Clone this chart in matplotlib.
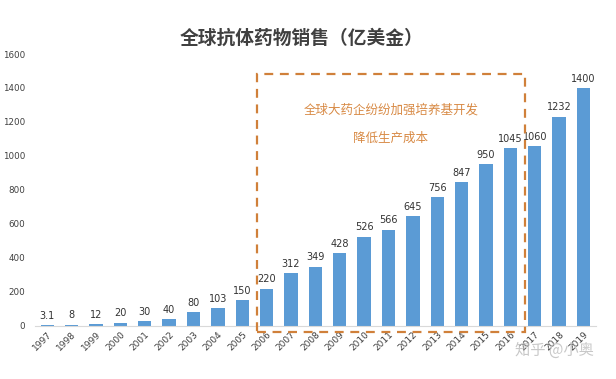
import matplotlib.pyplot as plt
import numpy as np
from matplotlib.patches import Rectangle

plt.rcParams['font.family'] = ['Noto Sans CJK SC', 'DejaVu Sans']

# 年份和销售额 (亿美金)
years = ['1997', '1998', '1999', '2000', '2001', '2002', '2003', '2004', '2005', '2006',
         '2007', '2008', '2009', '2010', '2011', '2012', '2013', '2014', '2015', '2016',
         '2017', '2018', '2019']
sales = [3.1, 8, 12, 20, 30, 40, 80, 103, 150, 220, 312, 349, 428, 526, 566, 645,
         756, 847, 950, 1045, 1060, 1232, 1400]
value_labels = ['3.1', '8', '12', '20', '30', '40', '80', '103', '150', '220', '312', '349',
                '428', '526', '566', '645', '756', '847', '950', '1045', '1060', '1232', '1400']
yticks = [0, 200, 400, 600, 800, 1000, 1200, 1400, 1600]

fig = plt.figure(figsize=(6.16, 3.79), dpi=100)
ax = fig.add_axes([0.057, 0.14, 0.91, 0.7175])

x = np.arange(len(years))
bars = ax.bar(x, sales, width=0.55, color='#5B9BD5', zorder=2)

for i, b in enumerate(bars):
    ax.text(b.get_x() + b.get_width() / 2, b.get_height() + 25, value_labels[i],
            ha='center', va='bottom', fontsize=7, color='#333333', family='DejaVu Sans')

ax.set_xlim(-0.5, len(years) - 0.5)
ax.set_ylim(0, 1600)
ax.set_yticks(yticks)
ax.set_yticklabels([str(t) for t in yticks], fontsize=6.3, color='#404040', family='DejaVu Sans')
ax.set_xticks(x)
ax.set_xticklabels(years, rotation=45, ha='right', rotation_mode='anchor', fontsize=6.5,
                   color='#404040', family='DejaVu Sans')
ax.tick_params(axis='both', length=0)
ax.tick_params(axis='y', pad=7)
ax.tick_params(axis='x', pad=3)

for s in ['top', 'right', 'left']:
    ax.spines[s].set_visible(False)
ax.spines['bottom'].set_color('#D9D9D9')

# 虚线框
box = Rectangle((8.6, -35), 11.0, 1517, fill=False, edgecolor='#D0803A', linestyle=(0, (4, 3)),
                linewidth=1.6, clip_on=False, zorder=3)
ax.add_patch(box)
ax.text(14.1, 1270, '全球大药企纷纷加强培养基开发', ha='center', va='center', fontsize=9, color='#D88A45')
ax.text(14.1, 1105, '降低生产成本', ha='center', va='center', fontsize=9, color='#D88A45')

fig.text(0.49, 0.90, '全球抗体药物销售（亿美金）', ha='center', va='center', fontsize=13.5,
         fontweight='bold', color='#404040')

# 水印
fig.text(0.90, 0.075, '知乎 @小奥', ha='center', va='center', fontsize=11, color='#BBBBBB', alpha=0.8)

fig.savefig('out.png', dpi=100)
